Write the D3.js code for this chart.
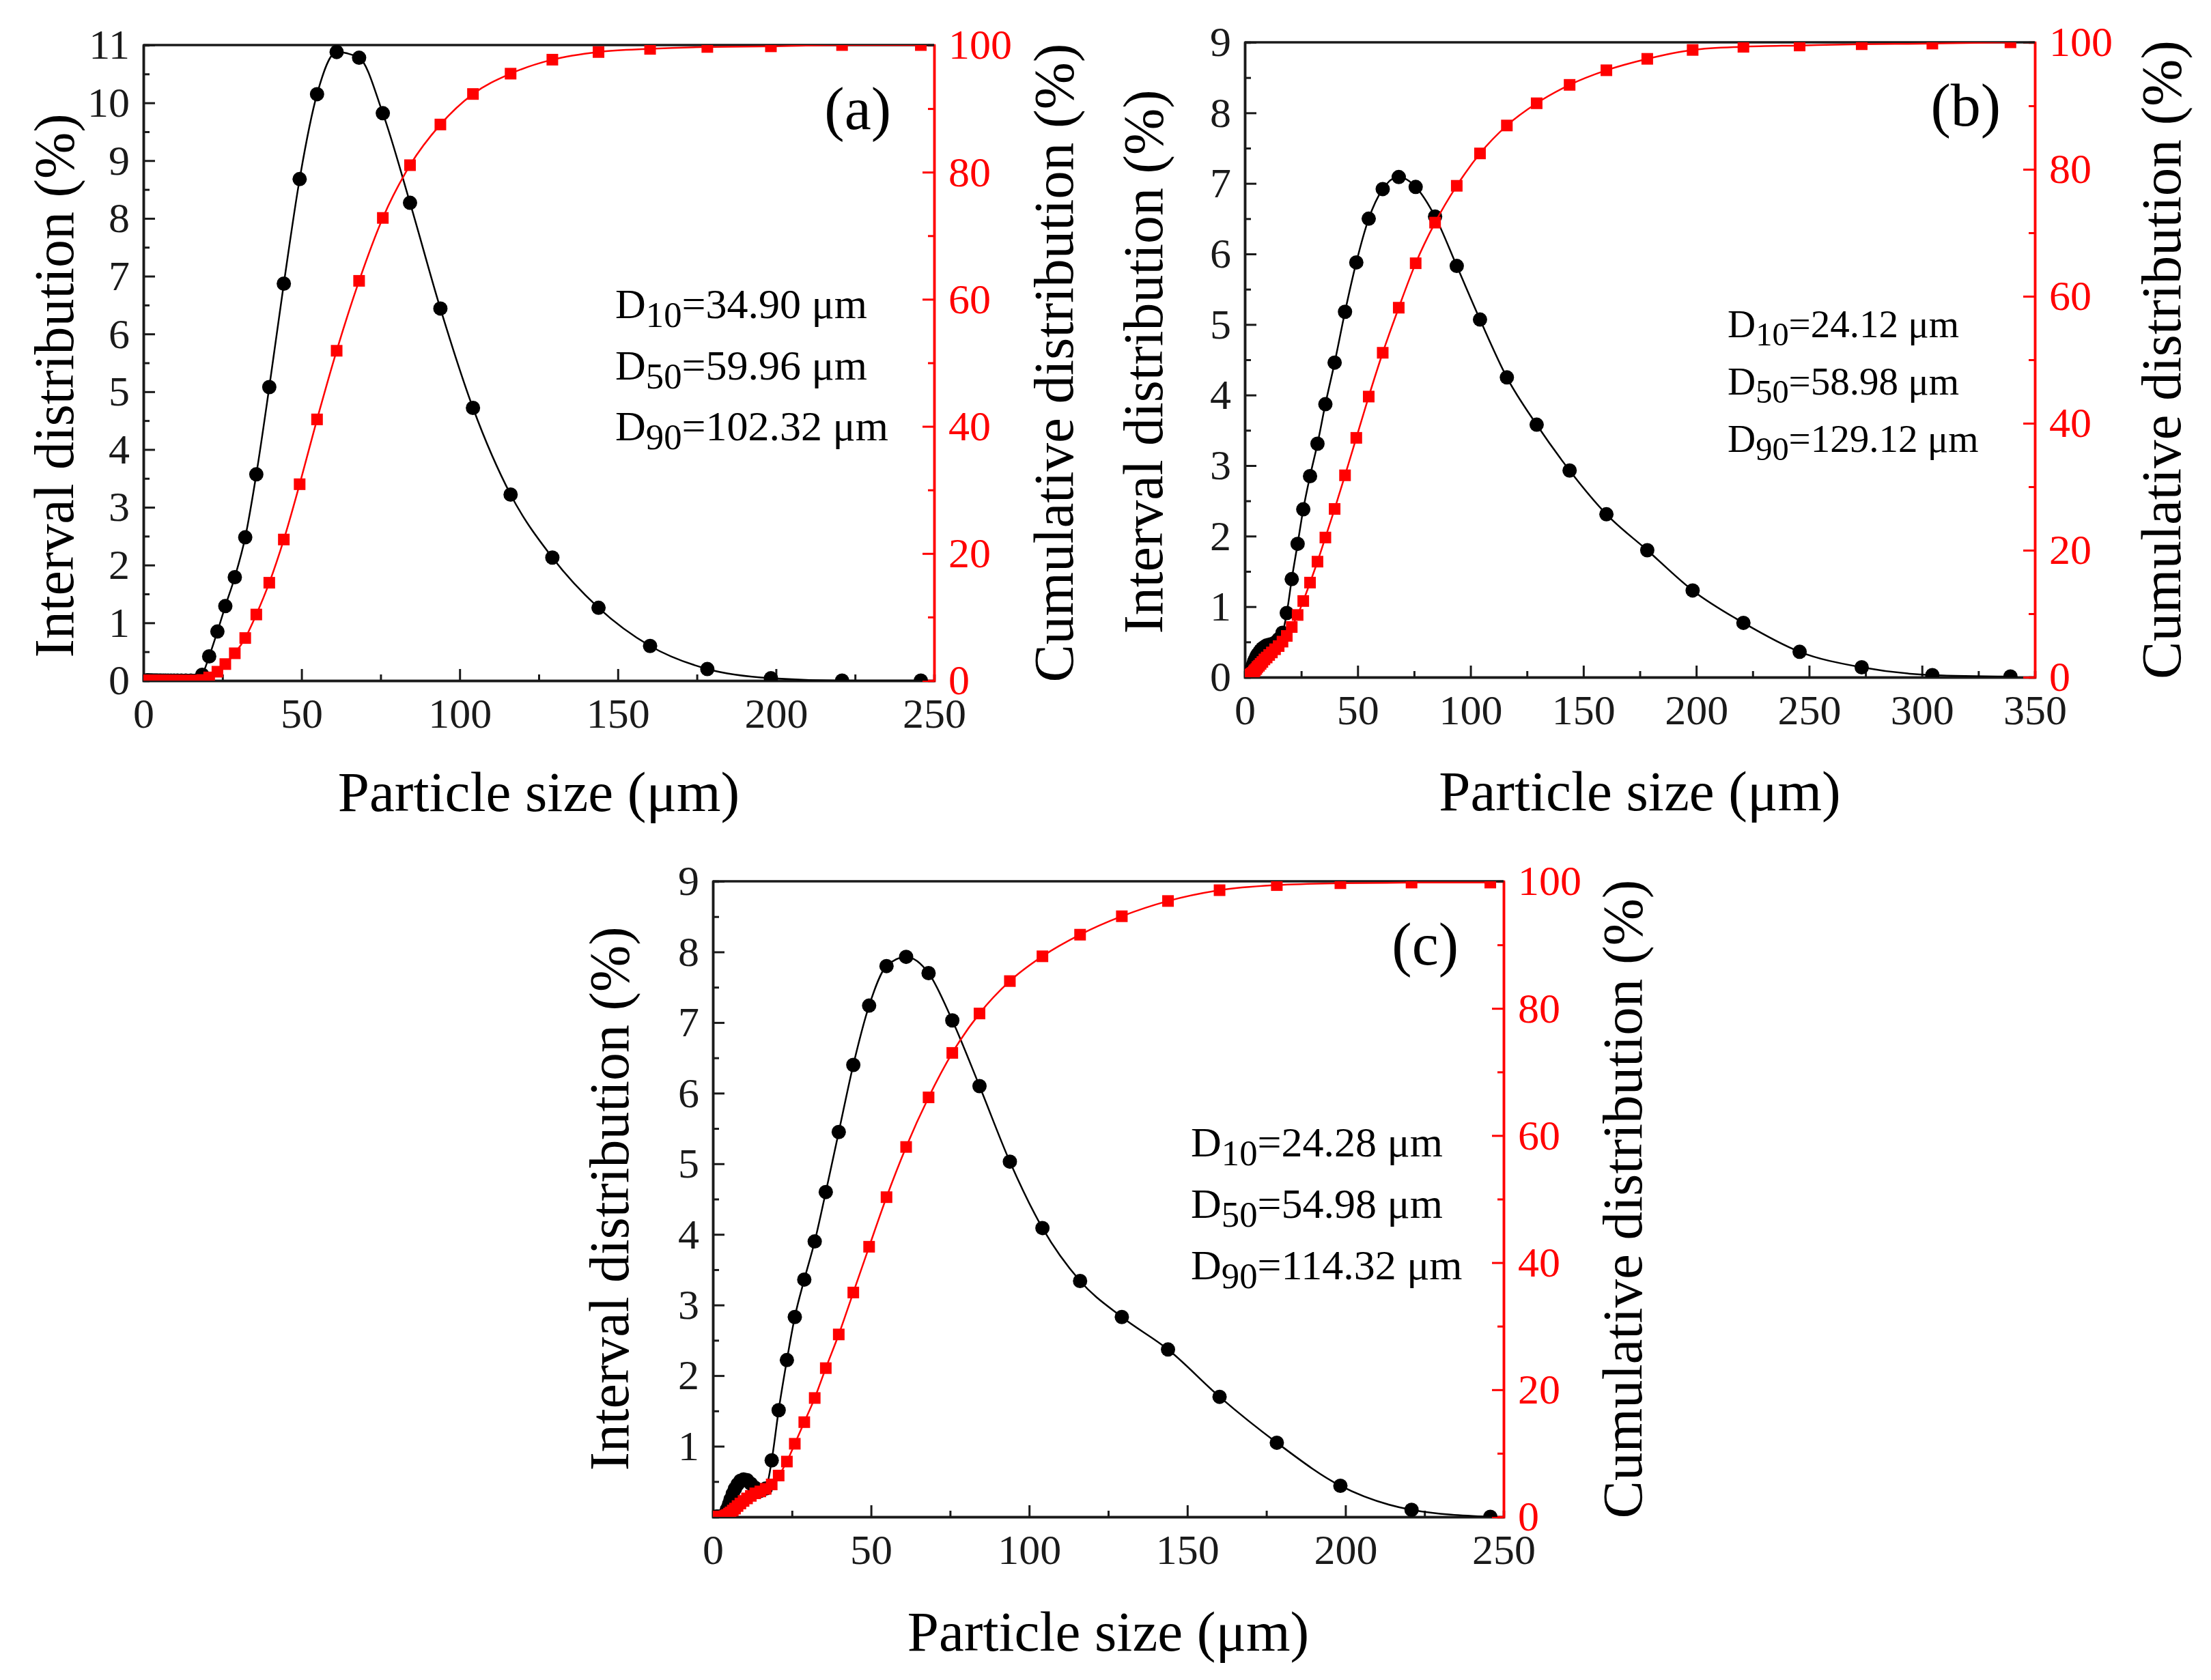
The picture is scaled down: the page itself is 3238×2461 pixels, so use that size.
<!DOCTYPE html>
<html lang="en">
<head>
<meta charset="UTF-8">
<title>Particle size distribution (a), (b), (c)</title>
<style>
    body { margin: 0; background: #ffffff; }
    svg { display: block; }
    text { font-family: "Liberation Serif", "Times New Roman", serif; }
</style>
</head>
<body>
<div id="chart"></div>
<script src="https://d3js.org/d3.v7.min.js"></script>
<script>
    // Particle size bins (µm), shared by the three samples
    const sizes = [1.0, 1.1, 1.2, 1.4, 1.5, 1.7, 1.9, 2.1, 2.4, 2.6, 2.9, 3.3, 3.7, 4.1, 4.5, 5.1, 5.6, 6.3, 7.0, 7.8,
        8.7, 9.7, 10.8, 12.0, 13.4, 15.0, 16.7, 18.6, 20.8, 23.4, 25.9, 28.9, 32.2, 35.7, 39.8, 44.4, 49.4, 54.9,
        61.1, 68.2, 75.7, 84.3, 93.9, 104.2, 116.1, 129.3, 143.9, 160.2, 178.3, 198.4, 220.9, 245.8, 273.3, 304.6, 339.2];

    // (a) interval / cumulative distribution (%)
    const intervalA = [0, 0, 0, 0, 0, 0, 0, 0, 0, 0, 0, 0, 0, 0, 0, 0, 0, 0, 0, 0, 0, 0, 0, 0, 0, 0, 0,
        0.10, 0.42, 0.85, 1.29, 1.79, 2.48, 3.57, 5.08, 6.87, 8.68, 10.15, 10.88, 10.78, 9.82, 8.27, 6.44,
        4.72, 3.22, 2.13, 1.26, 0.60, 0.20, 0.04, 0.00, 0.00];
    const cumulativeA = [0, 0, 0, 0, 0, 0, 0, 0, 0, 0, 0, 0, 0, 0, 0, 0, 0, 0, 0, 0, 0, 0, 0, 0, 0, 0, 0,
        0.1, 0.5, 1.4, 2.6, 4.3, 6.7, 10.4, 15.4, 22.2, 30.9, 41.1, 51.9, 62.9, 72.8, 81.1, 87.5,
        92.3, 95.5, 97.7, 98.9, 99.4, 99.7, 99.8, 100, 100];

    // (b)
    const intervalB = [0.00, 0.01, 0.01, 0.02, 0.03, 0.04, 0.05, 0.06, 0.08, 0.10, 0.12, 0.15, 0.18, 0.22, 0.25,
        0.29, 0.32, 0.35, 0.38, 0.41, 0.43, 0.45, 0.46, 0.47, 0.49, 0.54, 0.63,
        0.91, 1.39, 1.89, 2.38, 2.85, 3.31, 3.87, 4.46, 5.18, 5.88, 6.50, 6.92, 7.09, 6.95, 6.53, 5.83,
        5.07, 4.25, 3.58, 2.93, 2.31, 1.80, 1.23, 0.77, 0.36, 0.14, 0.03, 0.01];
    const cumulativeB = [0.0, 0.0, 0.1, 0.1, 0.1, 0.2, 0.2, 0.3, 0.3, 0.4, 0.5, 0.6, 0.7, 0.9, 1.1,
        1.3, 1.6, 1.8, 2.1, 2.4, 2.8, 3.1, 3.5, 3.9, 4.4, 4.9, 5.6,
        6.5, 7.9, 9.8, 12.0, 14.9, 18.2, 22.0, 26.5, 31.8, 37.7, 44.2, 51.1, 58.2, 65.2, 71.6, 77.4,
        82.5, 86.9, 90.4, 93.3, 95.6, 97.4, 98.8, 99.3, 99.5, 99.7, 99.8, 100];

    // (c)
    const intervalC = [0, 0, 0, 0, 0, 0, 0, 0, 0, 0, 0,
        0.00, 0.02, 0.06, 0.11, 0.18, 0.25, 0.33, 0.40, 0.46, 0.51, 0.53, 0.52, 0.47, 0.41, 0.37, 0.40,
        0.80, 1.51, 2.22, 2.83, 3.36, 3.90, 4.60, 5.45, 6.40, 7.24, 7.80, 7.93, 7.70, 7.03, 6.10, 5.03,
        4.09, 3.34, 2.83, 2.37, 1.70, 1.05, 0.44, 0.10, 0.00];
    const cumulativeC = [0, 0, 0, 0, 0, 0, 0, 0, 0, 0, 0,
        0.0, 0.1, 0.2, 0.3, 0.5, 0.7, 1.0, 1.3, 1.7, 2.1, 2.5, 2.9, 3.3, 3.7, 4.0, 4.4,
        5.1, 6.5, 8.7, 11.5, 14.9, 18.7, 23.4, 28.7, 35.3, 42.5, 50.3, 58.2, 66.0, 73.0, 79.2, 84.3,
        88.2, 91.6, 94.5, 96.9, 98.6, 99.4, 99.7, 99.8, 99.8];

    // tick labels
    const xTicksA = [0, 50, 100, 150, 200, 250];
    const xTicksB = [0, 50, 100, 150, 200, 250, 300, 350];
    const yTicksA = [0, 1, 2, 3, 4, 5, 6, 7, 8, 9, 10, 11];
    const yTicksB = [0, 1, 2, 3, 4, 5, 6, 7, 8, 9];
    const yTicksC = [1, 2, 3, 4, 5, 6, 7, 8, 9];
    const cumTicks = [0, 20, 40, 60, 80, 100];

    // D10 / D50 / D90 annotations
    const annA = [["10", "34.90"], ["50", "59.96"], ["90", "102.32"]];
    const annB = [["10", "24.12"], ["50", "58.98"], ["90", "129.12"]];
    const annC = [["10", "24.28"], ["50", "54.98"], ["90", "114.32"]];

    const W = 3238, H = 2461;
    const svg = d3.select("#chart").append("svg")
        .attr("width", W)
        .attr("height", H)
        .attr("viewBox", `0 0 ${W} ${H}`);

    const panels = [
        {
            id: "a", label: "(a)", left: 210, right: 1368, top: 66, bottom: 997,
            xMax: 250, yMax: 11, xTicks: xTicksA, yTicks: yTicksA,
            interval: intervalA, cumulative: cumulativeA, ann: annA,
            annX: 901, annY: 466, annGap: 89.5, annSize: 62,
            labelX: 1305, labelY: 189, leftTitleX: 107, leftTitleY: 565,
            rightTitleX: 1571, xTitleY: 1188
        },
        {
            id: "b", label: "(b)", left: 1823, right: 2980, top: 62, bottom: 992,
            xMax: 350, yMax: 9, xTicks: xTicksB, yTicks: yTicksB,
            interval: intervalB, cumulative: cumulativeB, ann: annB,
            annX: 2530, annY: 494, annGap: 84, annSize: 57,
            labelX: 2930, labelY: 184, leftTitleX: 1702, leftTitleY: 530,
            rightTitleX: 3193, xTitleY: 1187
        },
        {
            id: "c", label: "(c)", left: 1044, right: 2202, top: 1291, bottom: 2222,
            xMax: 250, yMax: 9, xTicks: xTicksA, yTicks: yTicksC,
            interval: intervalC, cumulative: cumulativeC, ann: annC,
            annX: 1744, annY: 1694, annGap: 90, annSize: 62,
            labelX: 2136, labelY: 1413, leftTitleX: 920, leftTitleY: 1756,
            rightTitleX: 2404, xTitleY: 2418
        }
    ];

    const tickFont = 62;
    const axisColor = "#1a1a1a";

    function styleAxis(sel, color) {
        sel.select(".domain").attr("stroke", color).attr("stroke-width", 3.5);
        sel.selectAll(".tick line").attr("stroke", color).attr("stroke-width", 3);
        sel.selectAll(".tick text")
            .attr("fill", color)
            .style("font-size", tickFont + "px")
            .style("font-family", "'Liberation Serif', serif");
    }

    function drawPanel(p) {
        const g = svg.append("g").attr("class", "panel-" + p.id);

        const x = d3.scaleLinear().domain([0, p.xMax]).range([p.left, p.right]);
        const y = d3.scaleLinear().domain([0, p.yMax]).range([p.bottom, p.top]);
        const y2 = d3.scaleLinear().domain([0, 100]).range([p.bottom, p.top]);

        // minor ticks (half steps)
        const minorX = d3.range(25, p.xMax, 50);
        const minorY = d3.range(0.5, p.yMax, 1);
        const minorY2 = d3.range(10, 100, 20);

        g.append("g").attr("transform", `translate(0,${p.bottom})`)
            .call(d3.axisBottom(x).tickValues(minorX).tickSize(-9).tickFormat(""))
            .call(s => styleAxis(s, axisColor));
        g.append("g").attr("transform", `translate(${p.left},0)`)
            .call(d3.axisLeft(y).tickValues(minorY).tickSize(-9).tickFormat(""))
            .call(s => styleAxis(s, axisColor));
        g.append("g").attr("transform", `translate(${p.right},0)`)
            .call(d3.axisRight(y2).tickValues(minorY2).tickSize(-9).tickFormat(""))
            .call(s => styleAxis(s, "#ff0000"));

        // major ticks with labels
        g.append("g").attr("transform", `translate(0,${p.bottom})`)
            .call(d3.axisBottom(x).tickValues(p.xTicks).tickSizeInner(-17).tickSizeOuter(0).tickPadding(25).tickFormat(d3.format("d")))
            .call(s => styleAxis(s, axisColor));
        g.append("g").attr("transform", `translate(${p.left},0)`)
            .call(d3.axisLeft(y).tickValues(p.yTicks).tickSizeInner(-17).tickSizeOuter(0).tickPadding(20).tickFormat(d3.format("d")))
            .call(s => styleAxis(s, axisColor));
        g.append("g").attr("transform", `translate(${p.right},0)`)
            .call(d3.axisRight(y2).tickValues(cumTicks).tickSizeInner(-17).tickSizeOuter(0).tickPadding(21).tickFormat(d3.format("d")))
            .call(s => styleAxis(s, "#ff0000"));

        // top frame line
        g.append("line")
            .attr("x1", p.left).attr("x2", p.right)
            .attr("y1", p.top).attr("y2", p.top)
            .attr("stroke", axisColor).attr("stroke-width", 3.5);

        // data, clipped to the plot area
        const clipId = "clip-" + p.id;
        svg.append("clipPath").attr("id", clipId)
            .append("rect")
            .attr("x", p.left).attr("y", p.top)
            .attr("width", p.right - p.left).attr("height", p.bottom - p.top);

        const pts = p.interval.map((v, i) => ({ s: sizes[i], v: v, c: p.cumulative[i] }));
        const plot = g.append("g").attr("clip-path", `url(#${clipId})`);

        const lineI = d3.line().x(d => x(d.s)).y(d => y(d.v)).curve(d3.curveMonotoneX);
        const lineC = d3.line().x(d => x(d.s)).y(d => y2(d.c)).curve(d3.curveMonotoneX);

        plot.append("path").datum(pts)
            .attr("d", lineI).attr("fill", "none")
            .attr("stroke", "#000000").attr("stroke-width", 2.5);
        plot.selectAll("circle.int").data(pts).enter().append("circle")
            .attr("class", "int")
            .attr("cx", d => x(d.s)).attr("cy", d => y(d.v))
            .attr("r", 10.5).attr("fill", "#000000");

        plot.append("path").datum(pts)
            .attr("d", lineC).attr("fill", "none")
            .attr("stroke", "#ff0000").attr("stroke-width", 2.5);
        const sq = 17;
        plot.selectAll("rect.cum").data(pts).enter().append("rect")
            .attr("class", "cum")
            .attr("x", d => x(d.s) - sq / 2).attr("y", d => y2(d.c) - sq / 2)
            .attr("width", sq).attr("height", sq).attr("fill", "#ff0000");

        // axis titles
        const cx = (p.left + p.right) / 2, cy = (p.top + p.bottom) / 2;
        g.append("text")
            .attr("x", cx).attr("y", p.xTitleY)
            .attr("text-anchor", "middle")
            .style("font-size", "83px")
            .text("Particle size (μm)");
        g.append("text")
            .attr("transform", `translate(${p.leftTitleX},${p.leftTitleY}) rotate(-90)`)
            .attr("text-anchor", "middle")
            .style("font-size", "82px")
            .text("Interval distribution (%)");
        g.append("text")
            .attr("transform", `translate(${p.rightTitleX},${cy}) rotate(-90)`)
            .attr("text-anchor", "middle")
            .style("font-size", "83px")
            .text("Cumulative distribution (%)");

        // panel label
        g.append("text")
            .attr("x", p.labelX).attr("y", p.labelY)
            .attr("text-anchor", "end")
            .style("font-size", "88px")
            .text(p.label);

        // D10 / D50 / D90
        p.ann.forEach((a, i) => {
            const t = g.append("text")
                .attr("x", p.annX).attr("y", p.annY + i * p.annGap)
                .style("font-size", p.annSize + "px");
            t.append("tspan").text("D");
            t.append("tspan")
                .style("font-size", (p.annSize * 0.85) + "px")
                .attr("dy", p.annSize * 0.21)
                .text(a[0]);
            t.append("tspan")
                .attr("dy", -p.annSize * 0.21)
                .text("=" + a[1] + " μm");
        });
    }

    panels.forEach(drawPanel);
</script>
</body>
</html>
